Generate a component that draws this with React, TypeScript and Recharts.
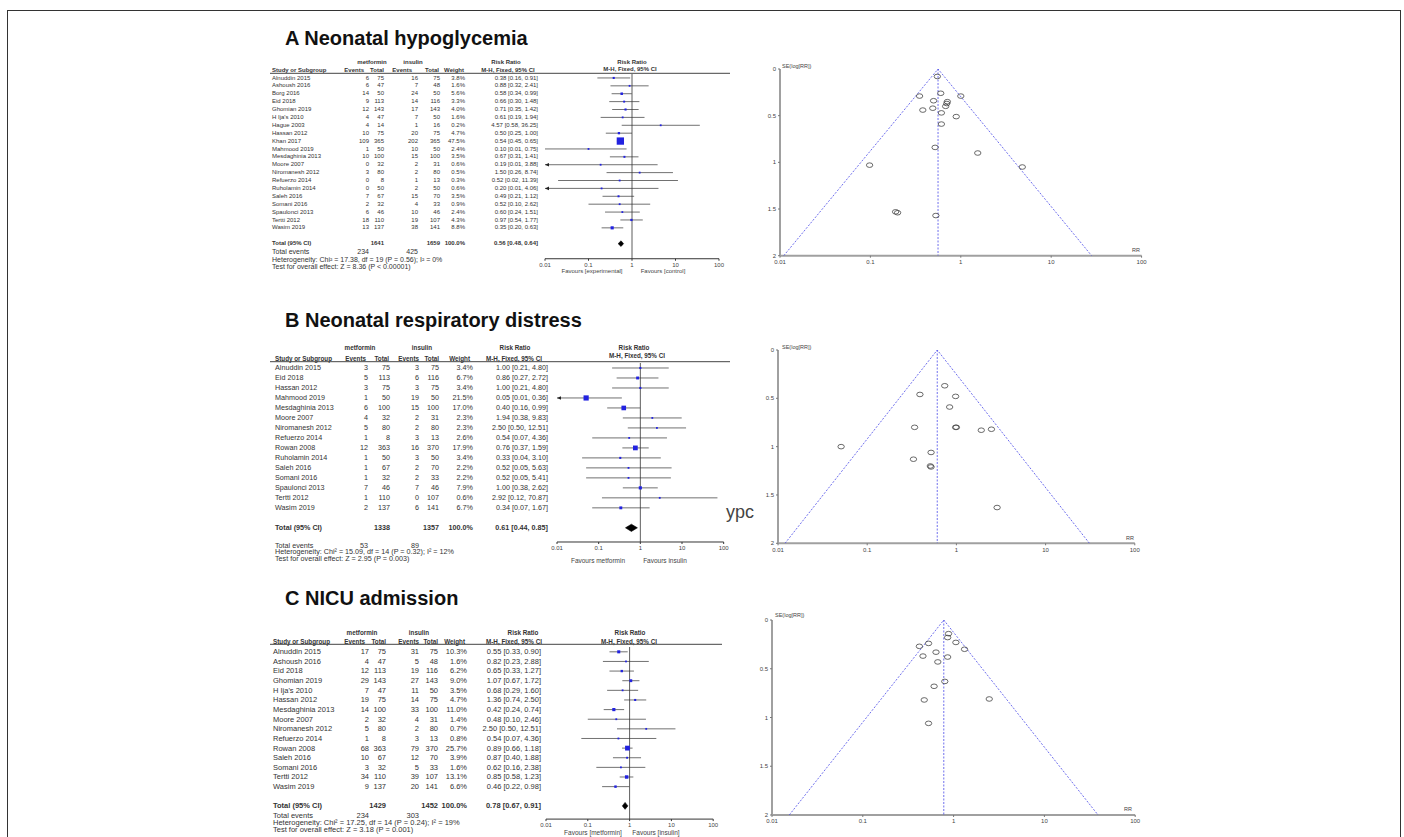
import React from 'react'
import { ScatterChart, Scatter, XAxis, YAxis, ErrorBar, ReferenceLine } from 'recharts'

const FONT = '"Liberation Sans", Arial, Helvetica, sans-serif'

// ---------- A: neonatal hypoglycemia ----------
const studiesA = ['Alnuddin 2015', 'Ashoush 2016', 'Borg 2016', 'Eid 2018', 'Ghomian 2019', "H Ija's 2010", 'Hague 2003', 'Hassan 2012', 'Khan 2017', 'Mahmood 2019', 'Mesdaghinia 2013', 'Moore 2007', 'Niromanesh 2012', 'Refuerzo 2014', 'Ruholamin 2014', 'Saleh 2016', 'Somani 2016', 'Spaulonci 2013', 'Tertti 2012', 'Wasim 2019']
const metEventsA = [6, 6, 14, 9, 12, 4, 4, 10, 109, 1, 10, 0, 3, 0, 0, 7, 2, 6, 18, 13]
const metTotalA = [75, 47, 50, 113, 143, 47, 14, 75, 365, 50, 100, 32, 80, 8, 50, 67, 32, 46, 110, 137]
const insEventsA = [16, 7, 24, 14, 17, 7, 1, 20, 202, 10, 15, 2, 2, 1, 2, 15, 4, 10, 19, 38]
const insTotalA = [75, 48, 50, 116, 143, 50, 16, 75, 365, 50, 100, 31, 80, 13, 50, 70, 33, 46, 107, 141]
const weightA = [3.8, 1.6, 5.6, 3.3, 4.0, 1.6, 0.2, 4.7, 47.5, 2.4, 3.5, 0.6, 0.5, 0.3, 0.6, 3.5, 0.9, 2.4, 4.3, 8.8]
const rrA = [0.38, 0.88, 0.58, 0.66, 0.71, 0.61, 4.57, 0.5, 0.54, 0.1, 0.67, 0.19, 1.5, 0.52, 0.2, 0.49, 0.52, 0.6, 0.97, 0.35]
const loA = [0.16, 0.32, 0.34, 0.3, 0.35, 0.19, 0.58, 0.25, 0.45, 0.01, 0.31, 0.01, 0.26, 0.02, 0.01, 0.21, 0.1, 0.24, 0.54, 0.2]
const hiA = [0.91, 2.41, 0.99, 1.48, 1.42, 1.94, 36.25, 1.0, 0.65, 0.75, 1.41, 3.88, 8.74, 11.39, 4.06, 1.12, 2.62, 1.51, 1.77, 0.63]
const clippedA = ['Moore 2007', 'Ruholamin 2014']
const totalA = { n1: 1641, n2: 1659, ev1: 234, ev2: 425, rr: 0.56, lo: 0.48, hi: 0.64 }
const notesA = ['Heterogeneity: Chi² = 17.38, df = 19 (P = 0.56); I² = 0%', 'Test for overall effect: Z = 8.36 (P < 0.00001)']
const favoursA = ['Favours [experimental]', 'Favours [control]']
const funnelRrA = [0.55, 0.35, 0.6, 1.0, 0.5, 0.71, 0.68, 0.7, 0.38, 0.49, 0.61, 0.89, 0.61, 0.52, 1.54, 0.098, 4.79, 0.19, 0.2, 0.53]
const funnelSeA = [0.08, 0.29, 0.26, 0.29, 0.34, 0.35, 0.4, 0.37, 0.44, 0.42, 0.47, 0.51, 0.59, 0.84, 0.9, 1.03, 1.05, 1.53, 1.54, 1.57]
const funnelLimitsA = [0.011, 0.56, 28]

// ---------- B: neonatal respiratory distress ----------
const studiesB = ['Alnuddin 2015', 'Eid 2018', 'Hassan 2012', 'Mahmood 2019', 'Mesdaghinia 2013', 'Moore 2007', 'Niromanesh 2012', 'Refuerzo 2014', 'Rowan 2008', 'Ruholamin 2014', 'Saleh 2016', 'Somani 2016', 'Spaulonci 2013', 'Tertti 2012', 'Wasim 2019']
const metEventsB = [3, 5, 3, 1, 6, 4, 5, 1, 12, 1, 1, 1, 7, 1, 2]
const metTotalB = [75, 113, 75, 50, 100, 32, 80, 8, 363, 50, 67, 32, 46, 110, 137]
const insEventsB = [3, 6, 3, 19, 15, 2, 2, 3, 16, 3, 2, 2, 7, 0, 6]
const insTotalB = [75, 116, 75, 50, 100, 31, 80, 13, 370, 50, 70, 33, 46, 107, 141]
const weightB = [3.4, 6.7, 3.4, 21.5, 17.0, 2.3, 2.3, 2.6, 17.9, 3.4, 2.2, 2.2, 7.9, 0.6, 6.7]
const rrB = [1.0, 0.86, 1.0, 0.05, 0.4, 1.94, 2.5, 0.54, 0.76, 0.33, 0.52, 0.52, 1.0, 2.92, 0.34]
const loB = [0.21, 0.27, 0.21, 0.01, 0.16, 0.38, 0.5, 0.07, 0.37, 0.04, 0.05, 0.05, 0.38, 0.12, 0.07]
const hiB = [4.8, 2.72, 4.8, 0.36, 0.99, 9.83, 12.51, 4.36, 1.59, 3.1, 5.63, 5.41, 2.62, 70.87, 1.67]
const clippedB = ['Mahmood 2019']
const totalB = { n1: 1338, n2: 1357, ev1: 53, ev2: 89, rr: 0.61, lo: 0.44, hi: 0.85 }
const notesB = ['Heterogeneity: Chi² = 15.09, df = 14 (P = 0.32); I² = 12%', 'Test for overall effect: Z = 2.95 (P = 0.003)']
const favoursB = ['Favours metformin', 'Favours insulin']
const funnelRrB = [0.74, 0.39, 0.98, 0.84, 0.34, 0.98, 1.0, 1.9, 2.47, 0.051, 0.52, 0.33, 0.51, 0.52, 2.86]
const funnelSeB = [0.37, 0.46, 0.48, 0.59, 0.8, 0.8, 0.8, 0.83, 0.82, 1.0, 1.06, 1.13, 1.2, 1.21, 1.63]
const funnelLimitsB = [0.012, 0.61, 31]

// ---------- C: NICU admission ----------
const studiesC = ['Alnuddin 2015', 'Ashoush 2016', 'Eid 2018', 'Ghomian 2019', "H Ija's 2010", 'Hassan 2012', 'Mesdaghinia 2013', 'Moore 2007', 'Niromanesh 2012', 'Refuerzo 2014', 'Rowan 2008', 'Saleh 2016', 'Somani 2016', 'Tertti 2012', 'Wasim 2019']
const metEventsC = [17, 4, 12, 29, 7, 19, 14, 2, 5, 1, 68, 10, 3, 34, 9]
const metTotalC = [75, 47, 113, 143, 47, 75, 100, 32, 80, 8, 363, 67, 32, 110, 137]
const insEventsC = [31, 5, 19, 27, 11, 14, 33, 4, 2, 3, 79, 12, 5, 39, 20]
const insTotalC = [75, 48, 116, 143, 50, 75, 100, 31, 80, 13, 370, 70, 33, 107, 141]
const weightC = [10.3, 1.6, 6.2, 9.0, 3.5, 4.7, 11.0, 1.4, 0.7, 0.8, 25.7, 3.9, 1.6, 13.1, 6.6]
const rrC = [0.55, 0.82, 0.65, 1.07, 0.68, 1.36, 0.42, 0.48, 2.5, 0.54, 0.89, 0.87, 0.62, 0.85, 0.46]
const loC = [0.33, 0.23, 0.33, 0.67, 0.29, 0.74, 0.24, 0.1, 0.5, 0.07, 0.66, 0.4, 0.16, 0.58, 0.22]
const hiC = [0.9, 2.88, 1.27, 1.72, 1.6, 2.5, 0.74, 2.46, 12.51, 4.36, 1.18, 1.88, 2.38, 1.23, 0.98]
const clippedC: string[] = []
const totalC = { n1: 1429, n2: 1452, ev1: 234, ev2: 303, rr: 0.78, lo: 0.67, hi: 0.91 }
const notesC = ['Heterogeneity: Chi² = 17.25, df = 14 (P = 0.24); I² = 19%', 'Test for overall effect: Z = 3.18 (P = 0.001)']
const favoursC = ['Favours [metformin]', 'Favours [insulin]']
const funnelRrC = [0.88, 0.86, 1.06, 0.53, 0.42, 1.32, 0.64, 0.46, 0.86, 0.67, 0.8, 0.61, 0.475, 2.47, 0.53]
const funnelSeC = [0.14, 0.18, 0.23, 0.24, 0.27, 0.3, 0.33, 0.37, 0.38, 0.43, 0.63, 0.68, 0.82, 0.81, 1.06]
const funnelLimitsC = [0.0155, 0.78, 39]

const titles = ['A Neonatal hypoglycemia', 'B Neonatal respiratory distress', 'C NICU admission']
const rrTicks = [0.01, 0.1, 1, 10, 100]
const seTicks = [0, 0.5, 1, 1.5, 2]

type Panel = {
  studies: string[]; e1: number[]; n1: number[]; e2: number[]; n2: number[]; w: number[]
  rr: number[]; lo: number[]; hi: number[]; clipped: string[]
  total: { n1: number; n2: number; ev1: number; ev2: number; rr: number; lo: number; hi: number }
  notes: string[]; favours: string[]; k: number
}

const panels: Panel[] = [
  { studies: studiesA, e1: metEventsA, n1: metTotalA, e2: insEventsA, n2: insTotalA, w: weightA, rr: rrA, lo: loA, hi: hiA, clipped: clippedA, total: totalA, notes: notesA, favours: favoursA, k: 1.06 },
  { studies: studiesB, e1: metEventsB, n1: metTotalB, e2: insEventsB, n2: insTotalB, w: weightB, rr: rrB, lo: loB, hi: hiB, clipped: clippedB, total: totalB, notes: notesB, favours: favoursB, k: 1.12 },
  { studies: studiesC, e1: metEventsC, n1: metTotalC, e2: insEventsC, n2: insTotalC, w: weightC, rr: rrC, lo: loC, hi: hiC, clipped: clippedC, total: totalC, notes: notesC, favours: favoursC, k: 0.95 },
]
const funnels = [
  { rr: funnelRrA, se: funnelSeA, lim: funnelLimitsA },
  { rr: funnelRrB, se: funnelSeB, lim: funnelLimitsB },
  { rr: funnelRrC, se: funnelSeC, lim: funnelLimitsC },
]

// layout (pixels)
const lays = [
  { titleY: 45, groupY: 61.7, headY: 70, fHeadY: 69.3, lineY: 73.3, lineX2: 730, y0: 77.5, pitch: 7.89, foot: [251.7, 259.5, 266.7], fs: 6, fsFoot: 7, fsHead: 6,
    nameX: 272, e1R: 369, n1R: 384, e2R: 418, n2R: 440, wR: 465, ciR: 538, hE1: 364, hN1: 384, hE2: 412, hN2: 439, hW: 464, hCI: 508,
    gMet: 372, gIns: 413, gRR: 506, fRR: 632, fMH: 630, fx0: 545, fdec: 43.5, axisY: 258.3, favY: 270.7, favL: 592, favR: 663, fsFav: 6 },
  { titleY: 327, groupY: 347.3, headY: 358.3, fHeadY: 355.5, lineY: 361.7, lineX2: 730, y0: 367.7, pitch: 9.99, foot: [545.7, 551.9, 558.3], fs: 7.2, fsFoot: 7.2, fsHead: 6.3,
    nameX: 275, e1R: 368, n1R: 390, e2R: 419, n2R: 439, wR: 473, ciR: 548, hE1: 366, hN1: 389, hE2: 419, hN2: 439, hW: 470, hCI: 514,
    gMet: 360, gIns: 422, gRR: 515, fRR: 634, fMH: 637, fx0: 556.7, fdec: 41.67, axisY: 541.7, favY: 560.7, favL: 598, favR: 665, fsFav: 6.5 },
  { titleY: 605, groupY: 632.3, headY: 641.7, fHeadY: 641.7, lineY: 644.3, lineX2: 722, y0: 651.7, pitch: 9.63, foot: [815.7, 822.7, 829.3], fs: 7.5, fsFoot: 7.5, fsHead: 6.3,
    nameX: 273, e1R: 369, n1R: 386, e2R: 419, n2R: 438, wR: 467, ciR: 541, hE1: 365, hN1: 386, hE2: 419, hN2: 438, hW: 465, hCI: 514,
    gMet: 362, gIns: 419, gRR: 523, fRR: 630, fMH: 629, fx0: 546, fdec: 41.8, axisY: 819, favY: 832, favL: 593, favR: 656, fsFav: 6.5 },
]
const funnelLays = [
  { x0: 780, dec: 90.4, yTop: 69.3, yBot: 256, seX: 782, seY: 66, rrX: 1136, rrY: 250 },
  { x0: 778.3, dec: 89.2, yTop: 350, yBot: 543.3, seX: 782, seY: 346.7, rrX: 1130, rrY: 537.5 },
  { x0: 771.7, dec: 90.8, yTop: 620, yBot: 815, seX: 775, seY: 615, rrX: 1128, rrY: 809 },
]

type Lay = typeof lays[0]
const ci = (r: number, l: number, h: number) => `${r.toFixed(2)} [${l.toFixed(2)}, ${h.toFixed(2)}]`
const tick6 = { fontSize: 6, fill: '#444', fontFamily: FONT }

function T({ x, y, s, a = 'start', b = false, c = '#333', children }: any) {
  return (
    <text x={x} y={y} fontSize={s} textAnchor={a} dominantBaseline="central" fontWeight={b ? 'bold' : 'normal'} fill={c} fontFamily={FONT}>
      {children}
    </text>
  )
}

const squareShape = (k: number) => (p: any) => {
  const s = Math.max(1.8, k * Math.sqrt(p.payload.w))
  return <rect x={p.cx - s / 2} y={p.cy - s / 2} width={s} height={s} fill="#2222e0" />
}
const arrowShape = (p: any) => (
  <polygon points={`${p.cx},${p.cy} ${p.cx + 4},${p.cy - 1.8} ${p.cx + 4},${p.cy + 1.8}`} fill="#222" />
)
const noDot = () => <g />
const ringShape = (p: any) => <ellipse cx={p.cx} cy={p.cy} rx={3.2} ry={2.3} fill="none" stroke="#444" strokeWidth={0.8} />

function ForestPlot({ d, L }: { d: Panel; L: Lay }) {
  const rows = d.studies.map((s, k) => ({ i: k, rr: d.rr[k], w: d.w[k], err: [d.rr[k] - d.lo[k], d.hi[k] - d.rr[k]] }))
  const arrows = d.studies.map((s, k) => ({ s, i: k, rr: d.lo[k] })).filter((r) => d.clipped.includes(r.s))
  const ti = d.studies.length + 1
  const t = d.total
  const diamond = [
    { rr: t.lo, i: ti }, { rr: t.rr, i: ti - 0.36 }, { rr: t.hi, i: ti }, { rr: t.rr, i: ti + 0.36 }, { rr: t.lo, i: ti },
  ]
  const pad = 12
  const xh = 14
  const top = L.y0 - 0.5 * L.pitch
  const axisIdx = (L.axisY - L.y0) / L.pitch
  return (
    <div style={{ position: 'absolute', left: L.fx0 - pad, top }}>
      <ScatterChart width={L.fdec * 4 + 2 * pad} height={L.axisY - top + xh + 2} margin={{ top: 0, right: pad, bottom: 2, left: pad }}>
        <XAxis type="number" dataKey="rr" scale="log" domain={[0.01, 100]} ticks={rrTicks} allowDataOverflow interval={0}
          height={xh} tickSize={2} tick={tick6} stroke="#333" />
        <YAxis type="number" dataKey="i" domain={[-0.5, axisIdx]} reversed hide allowDataOverflow />
        <ReferenceLine x={1} stroke="#333" strokeWidth={0.8} />
        <Scatter data={rows} shape={squareShape(d.k)} isAnimationActive={false}>
          <ErrorBar dataKey="err" direction="x" width={0} stroke="#333" strokeWidth={0.7} />
        </Scatter>
        <Scatter data={arrows} shape={arrowShape} isAnimationActive={false} />
        <Scatter data={diamond} shape={noDot} line={{ stroke: '#000', strokeWidth: 0.6, fill: '#000' }} isAnimationActive={false} />
      </ScatterChart>
    </div>
  )
}

function FunnelPlot({ f, L }: { f: typeof funnels[0]; L: typeof funnelLays[0] }) {
  const pts = f.rr.map((r, k) => ({ x: r, y: f.se[k] }))
  const [lo, pooled, hi] = f.lim
  const cone = [{ x: lo, y: 2 }, { x: pooled, y: 0 }, { x: hi, y: 2 }]
  const mid = [{ x: pooled, y: 0 }, { x: pooled, y: 2 }]
  const yw = 20
  const pad = 12
  const xh = 14
  const topPad = 6
  const dash = { stroke: '#4a4ae8', strokeWidth: 0.8, strokeDasharray: '2 1.5' }
  return (
    <div style={{ position: 'absolute', left: L.x0 - yw, top: L.yTop - topPad }}>
      <ScatterChart width={yw + 4 * L.dec + pad} height={topPad + L.yBot - L.yTop + xh + 2} margin={{ top: topPad, right: pad, bottom: 2, left: 0 }}>
        <XAxis type="number" dataKey="x" scale="log" domain={[0.01, 100]} ticks={rrTicks} allowDataOverflow interval={0}
          height={xh} tickSize={2} tick={tick6} axisLine={{ stroke: '#a0a0a0', strokeWidth: 2 }} tickLine={{ stroke: '#777' }} />
        <YAxis type="number" dataKey="y" domain={[0, 2]} ticks={seTicks} reversed allowDataOverflow interval={0}
          width={yw} tickSize={2} tick={tick6} axisLine={{ stroke: '#a0a0a0', strokeWidth: 2 }} tickLine={{ stroke: '#777' }} />
        <Scatter data={cone} shape={noDot} line={dash} isAnimationActive={false} />
        <Scatter data={mid} shape={noDot} line={dash} isAnimationActive={false} />
        <Scatter data={pts} shape={ringShape} isAnimationActive={false} />
      </ScatterChart>
    </div>
  )
}

function TableText({ d, L, title }: { d: Panel; L: Lay; title: string }) {
  const ti = d.studies.length + 1
  const ty = L.y0 + ti * L.pitch
  const t = d.total
  return (
    <g>
      <text x={285} y={L.titleY} fontSize={20} fontWeight="bold" fill="#111" fontFamily={FONT}>{title}</text>
      <T x={L.gMet} y={L.groupY} s={L.fsHead} a="middle" b>metformin</T>
      <T x={L.gIns} y={L.groupY} s={L.fsHead} a="middle" b>insulin</T>
      <T x={L.gRR} y={L.groupY} s={L.fsHead} a="middle" b>Risk Ratio</T>
      <T x={L.fRR} y={L.groupY} s={L.fsHead} a="middle" b>Risk Ratio</T>
      <T x={L.nameX} y={L.headY} s={L.fsHead} b>Study or Subgroup</T>
      <T x={L.hE1} y={L.headY} s={L.fsHead} a="end" b>Events</T>
      <T x={L.hN1} y={L.headY} s={L.fsHead} a="end" b>Total</T>
      <T x={L.hE2} y={L.headY} s={L.fsHead} a="end" b>Events</T>
      <T x={L.hN2} y={L.headY} s={L.fsHead} a="end" b>Total</T>
      <T x={L.hW} y={L.headY} s={L.fsHead} a="end" b>Weight</T>
      <T x={L.hCI} y={L.headY} s={L.fsHead} a="middle" b>M-H, Fixed, 95% CI</T>
      <T x={L.fMH} y={L.fHeadY} s={L.fsHead} a="middle" b>M-H, Fixed, 95% CI</T>
      <line x1={270} x2={L.lineX2} y1={L.lineY} y2={L.lineY} stroke="#444" strokeWidth={1} />
      {d.studies.map((s, k) => {
        const y = L.y0 + k * L.pitch
        return (
          <g key={s + k}>
            <T x={L.nameX} y={y} s={L.fs}>{s}</T>
            <T x={L.e1R} y={y} s={L.fs} a="end">{d.e1[k]}</T>
            <T x={L.n1R} y={y} s={L.fs} a="end">{d.n1[k]}</T>
            <T x={L.e2R} y={y} s={L.fs} a="end">{d.e2[k]}</T>
            <T x={L.n2R} y={y} s={L.fs} a="end">{d.n2[k]}</T>
            <T x={L.wR} y={y} s={L.fs} a="end">{d.w[k].toFixed(1)}%</T>
            <T x={L.ciR} y={y} s={L.fs} a="end">{ci(d.rr[k], d.lo[k], d.hi[k])}</T>
          </g>
        )
      })}
      <T x={L.nameX} y={ty} s={L.fs} b>Total (95% CI)</T>
      <T x={L.n1R} y={ty} s={L.fs} a="end" b>{t.n1}</T>
      <T x={L.n2R} y={ty} s={L.fs} a="end" b>{t.n2}</T>
      <T x={L.wR} y={ty} s={L.fs} a="end" b>100.0%</T>
      <T x={L.ciR} y={ty} s={L.fs} a="end" b>{ci(t.rr, t.lo, t.hi)}</T>
      <T x={L.nameX} y={L.foot[0]} s={L.fsFoot}>Total events</T>
      <T x={L.e1R} y={L.foot[0]} s={L.fsFoot} a="end">{t.ev1}</T>
      <T x={L.e2R} y={L.foot[0]} s={L.fsFoot} a="end">{t.ev2}</T>
      <T x={L.nameX} y={L.foot[1]} s={L.fsFoot}>{d.notes[0]}</T>
      <T x={L.nameX} y={L.foot[2]} s={L.fsFoot}>{d.notes[1]}</T>
      <T x={L.favL} y={L.favY} s={L.fsFav} a="middle" c="#444">{d.favours[0]}</T>
      <T x={L.favR} y={L.favY} s={L.fsFav} a="middle" c="#444">{d.favours[1]}</T>
    </g>
  )
}

export default function App() {
  return (
    <div style={{ position: 'absolute', left: 0, top: 0, width: 1404, height: 837, overflow: 'hidden', background: '#fff' }}>
      <div style={{ position: 'absolute', left: 7, top: 10, width: 1392, height: 840, border: '1.5px solid #333' }} />
      {panels.map((d, k) => <ForestPlot key={'f' + k} d={d} L={lays[k]} />)}
      {funnels.map((f, k) => <FunnelPlot key={'u' + k} f={f} L={funnelLays[k]} />)}
      <svg width={1404} height={837} style={{ position: 'absolute', left: 0, top: 0, pointerEvents: 'none' }}>
        {panels.map((d, k) => <TableText key={'t' + k} d={d} L={lays[k]} title={titles[k]} />)}
        {funnelLays.map((L, k) => (
          <g key={'fl' + k}>
            <T x={L.seX} y={L.seY} s={5.5} c="#444">SE(log[RR])</T>
            <T x={L.rrX} y={L.rrY} s={5.5} a="middle" c="#444">RR</T>
          </g>
        ))}
        <text x={726} y={518} fontSize={18} fill="#444" fontFamily={FONT}>ypc</text>
      </svg>
    </div>
  )
}
